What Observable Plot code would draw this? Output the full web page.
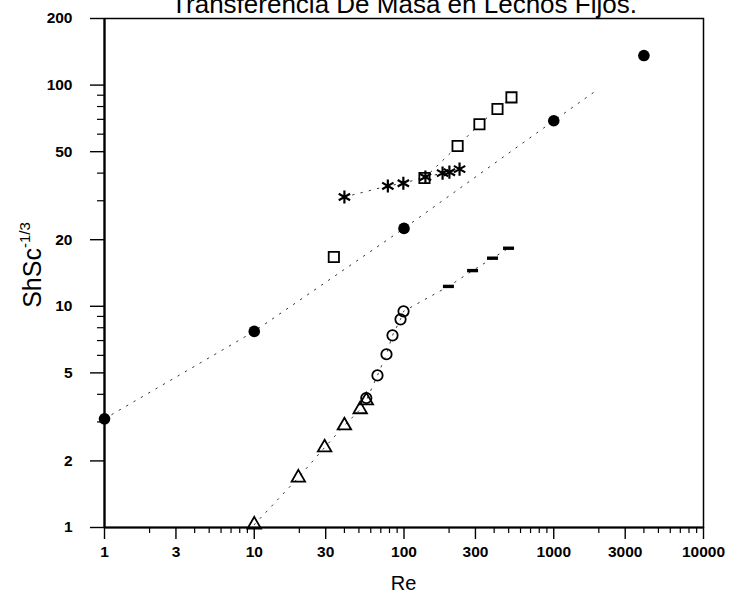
<!DOCTYPE html>
<html><head><meta charset="utf-8">
<script src="https://cdn.jsdelivr.net/npm/d3@7"></script>
<script src="https://cdn.jsdelivr.net/npm/@observablehq/plot@0.6"></script>
<style>
html,body{margin:0;padding:0;background:#fff;}
#chart svg{display:block;}
</style></head><body><div id="chart"></div>
<script>
const title = "Transferencia De Masa en Lechos Fijos.";
const xLabel = "Re";
const yLabelBase = "ShSc";
const yLabelSup = "-1/3";

const xTicks = [1, 3, 10, 30, 100, 300, 1000, 3000, 10000];
const xMinor = [2, 4, 5, 6, 7, 8, 9, 20, 40, 50, 60, 70, 80, 90, 200, 400, 500, 600, 700, 800, 900, 2000, 4000, 5000, 6000, 7000, 8000, 9000];
const yTicks = [1, 2, 5, 10, 20, 50, 100, 200];
const yMinor = [3, 4, 6, 7, 8, 9, 30, 40, 60, 70, 80, 90];

// filled circles
const filledRe = [1, 10, 100, 1000, 4000];
const filledSh = [3.1, 7.7, 22.5, 69, 136];
// open squares
const squareRe = [34, 137, 228, 319, 421, 522];
const squareSh = [16.7, 38, 53, 66.5, 78, 88];
// asterisks
const starRe = [40, 78, 99, 139, 181, 201, 235];
const starSh = [31.2, 35, 36, 38.4, 40, 40.4, 41.7];
// open triangles
const triRe = [10, 19.7, 29.5, 40, 51, 56];
const triSh = [1.03, 1.68, 2.3, 2.89, 3.42, 3.75];
// open circles
const openRe = [56, 66.5, 76.4, 83.8, 94.8, 99.3];
const openSh = [3.85, 4.87, 6.07, 7.39, 8.73, 9.49];
// dashes
const dashRe = [198, 287, 390, 499];
const dashSh = [12.3, 14.5, 16.5, 18.3];

// dotted curves
const lineARe = [1, 10, 100, 1000, 1900];
const lineASh = [3.1, 7.7, 22.5, 69, 94];
const lineBRe = starRe;
const lineBSh = starSh;
const lineCRe = [137, 228, 319, 421, 522];
const lineCSh = [38, 53, 66.5, 78, 88];
const lineDRe = [10, 19.7, 29.5, 40, 51, 56, 66.5, 76.4, 83.8, 94.8, 99.3, 198, 287, 390, 499];
const lineDSh = [1.03, 1.68, 2.3, 2.89, 3.42, 3.75, 4.87, 6.07, 7.39, 8.73, 9.49, 12.3, 14.5, 16.5, 18.3];

const zip = (xs, ys) => xs.map((x, i) => ({x, y: ys[i]}));

const dashSymbol = {
  draw(ctx, size) {
    const w = Math.sqrt(size);
    ctx.moveTo(-w / 2, -1.7);
    ctx.lineTo(w / 2, -1.7);
    ctx.lineTo(w / 2, 1.7);
    ctx.lineTo(-w / 2, 1.7);
    ctx.closePath();
  }
};

const dotted = {x: "x", y: "y", stroke: "#333", strokeWidth: 1, strokeDasharray: "1.5 7"};
const fmt = d => String(d);

const svg = Plot.plot({
  width: 729,
  height: 597,
  marginLeft: 104,
  marginRight: 26,
  marginTop: 18,
  marginBottom: 70,
  style: {fontFamily: "'Liberation Sans', Arial, sans-serif", background: "#fff", color: "#000"},
  x: {type: "log", domain: [1, 10000]},
  y: {type: "log", domain: [1, 200]},
  marks: [
    Plot.line(zip(lineARe, lineASh), dotted),
    Plot.line(zip(lineBRe, lineBSh), dotted),
    Plot.line(zip(lineCRe, lineCSh), dotted),
    Plot.line(zip(lineDRe, lineDSh), dotted),
    Plot.axisX(xMinor, {tickSize: 6, tickFormat: () => "", strokeWidth: 1.2, label: null}),
    Plot.axisX(xTicks, {tickSize: 12, tickFormat: () => "", strokeWidth: 1.4, label: null}),
    Plot.axisY(yMinor, {tickSize: 7, tickFormat: () => "", strokeWidth: 1.2, label: null}),
    Plot.axisY(yTicks, {tickSize: 14, tickFormat: () => "", strokeWidth: 1.4, label: null}),
    Plot.text(xTicks, {x: d => d, text: fmt, frameAnchor: "bottom", lineAnchor: "top", dy: 18, fontSize: 15.5, fontWeight: "bold", fill: "#000"}),
    Plot.text(yTicks, {y: d => d, text: fmt, frameAnchor: "left", textAnchor: "end", dx: -32, fontSize: 15.5, fontWeight: "bold", fill: "#000"}),
    Plot.frame({stroke: "#000", strokeWidth: 1.5}),
    Plot.ruleX([1], {stroke: "#000", strokeWidth: 2.2}),
    Plot.ruleY([1], {stroke: "#000", strokeWidth: 2.2}),
    Plot.dot(zip(squareRe, squareSh), {x: "x", y: "y", symbol: "square", r: 5.8, stroke: "#000", strokeWidth: 1.8, fill: "#fff"}),
    Plot.dot(zip(starRe, starSh), {x: "x", y: "y", symbol: "asterisk", r: 6.2, stroke: "#000", strokeWidth: 2.2}),
    Plot.dot(zip(triRe, triSh), {x: "x", y: "y", symbol: "triangle", r: 5, stroke: "#000", strokeWidth: 1.8, fill: "none"}),
    Plot.dot(zip(openRe, openSh), {x: "x", y: "y", symbol: "circle", r: 5.2, stroke: "#000", strokeWidth: 1.8, fill: "none"}),
    Plot.dot(zip(dashRe, dashSh), {x: "x", y: "y", symbol: dashSymbol, r: 6.2, fill: "#000", stroke: "none"}),
    Plot.dot(zip(filledRe, filledSh), {x: "x", y: "y", symbol: "circle", r: 5.8, fill: "#000", stroke: "none"})
  ]
});

const s = d3.select(svg);
s.append("text")
  .attr("x", 404).attr("y", 13)
  .attr("text-anchor", "middle")
  .attr("font-size", 26)
  .attr("fill", "#000")
  .text(title);
s.append("text")
  .attr("x", 403.5).attr("y", 590)
  .attr("text-anchor", "middle")
  .attr("font-size", 20)
  .attr("fill", "#000")
  .text(xLabel);
const yl = s.append("text")
  .attr("transform", "translate(41,265) rotate(-90)")
  .attr("text-anchor", "middle")
  .attr("font-size", 25)
  .attr("fill", "#000");
yl.append("tspan").text(yLabelBase);
yl.append("tspan").attr("dy", -11).attr("font-size", 15).text(yLabelSup);

document.getElementById("chart").appendChild(svg);
</script>
</body></html>
